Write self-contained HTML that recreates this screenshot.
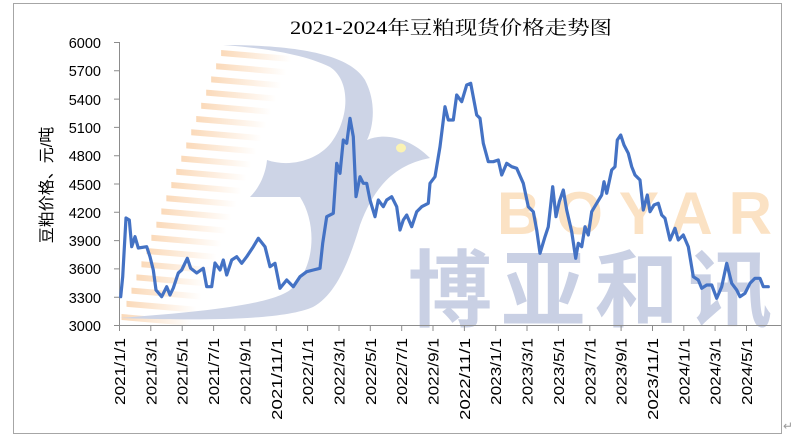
<!DOCTYPE html>
<html><head><meta charset="utf-8"><style>
html,body{margin:0;padding:0;background:#fff;}
svg{display:block;}
</style></head><body>
<svg width="802" height="446" viewBox="0 0 802 446" xmlns="http://www.w3.org/2000/svg">
<defs>
<linearGradient id="og" x1="0" y1="0" x2="1" y2="0">
<stop offset="0" stop-color="#f9cda2" stop-opacity="0.75"/>
<stop offset="1" stop-color="#f9cda2" stop-opacity="0"/>
</linearGradient>
</defs>
<rect x="13.5" y="3.5" width="768" height="430" fill="#fff" stroke="#a6a6a6" stroke-width="1"/>
<g id="stripes"></g>
<path d="M223,45 C300,45 350,55 365,80 C378,105 372,130 367,140 C385,132 410,138 430,158 C395,165 375,185 360,225 C348,265 335,295 313,307 C280,322 180,320 120,318 C200,312 270,305 290,290 C315,270 318,225 300,197 L250,197 C262,185 266,170 267,160 C290,168 320,160 333,140 C350,115 350,80 330,67 C300,52 250,47 223,45 Z" fill="#cdd4e6"/>
<ellipse cx="401" cy="148" rx="5" ry="4.5" fill="#fbf3b3"/>
<text x="497" y="234" font-family="Liberation Sans, sans-serif" font-weight="bold" font-size="60" fill="#fbe2c4" textLength="275" lengthAdjust="spacing">BOYAR</text>
<text x="408" y="320" font-family="'Liberation Sans','Noto Sans CJK SC',sans-serif" font-weight="bold" font-size="84" fill="#c9d0e4" textLength="364" lengthAdjust="spacing">博亚和讯</text>
<g stroke="#8c8c8c" stroke-width="1" fill="none">
<path d="M119.5,42 V325.5 H781"/>
<path d="M114,42.5H120M114,70.8H120M114,99.1H120M114,127.4H120M114,155.7H120M114,184H120M114,212.3H120M114,240.6H120M114,268.9H120M114,297.2H120M114,325.5H120"/>
<g id="xt"></g>
</g>
<g font-family="Liberation Sans, sans-serif" font-size="14.5" fill="#000" text-anchor="end">
<text x="101" y="48">6000</text><text x="101" y="76">5700</text><text x="101" y="105">5400</text>
<text x="101" y="133">5100</text><text x="101" y="161">4800</text><text x="101" y="190">4500</text>
<text x="101" y="218">4200</text><text x="101" y="246">3900</text><text x="101" y="274">3600</text>
<text x="101" y="303">3300</text><text x="101" y="331">3000</text>
</g>
<g id="xl" font-family="Liberation Sans, sans-serif" font-size="15" fill="#000"></g>
<text x="290" y="34" font-family="'Liberation Serif','Noto Serif CJK SC',serif" font-size="19" fill="#000" textLength="322" lengthAdjust="spacingAndGlyphs">2021-2024年豆粕现货价格走势图</text>
<text transform="translate(52,185) rotate(-90)" text-anchor="middle" font-family="'Liberation Sans','Noto Sans CJK SC',sans-serif" font-size="16" fill="#000">豆粕价格、元/吨</text>
<polyline fill="none" stroke="#4472c4" stroke-width="3.2" stroke-linejoin="round" stroke-linecap="round" points="120.7,296.7 122.7,276.7 126,218 129.3,220 131.7,246.7 135,236.7 138.3,248 146.7,246.7 150,256.7 153.3,270 156,290 161.7,296.7 166.7,286.7 170,295 173.3,288 178.3,273 181.7,270 187.3,258.3 190.7,268.3 196.7,273 203.3,268.3 206.7,286.7 211.7,286.7 215,263 220,270 223.3,260 226.7,275 231.7,260 236.7,256.7 241.7,263.3 246.7,256.7 253.3,246.7 258.3,238.3 265,246.7 270,266.7 275,263.3 280,288.3 286.7,280 293.3,286.7 300,276.7 306.7,271.7 313.3,270 320,268.3 322.7,243.3 326.7,216.7 333.3,213.3 336.7,163.3 340,173.3 343.3,140 346.7,143.3 350,118.3 353.3,136.7 356,196.7 360,176.7 363.3,183.3 366.7,183.3 370,200 375,216.7 378.3,200 383.3,206.7 386.7,200 391.7,196.7 396.7,206.7 400,230 403.3,220 406.7,215 411.7,226.7 416.7,211.7 421.7,206.7 428.3,203.3 430,183.3 435,176.7 440,146.7 445,106.7 448.3,120 453.3,120 456.7,95 461.7,101.7 466.7,85 470.7,83.3 476.7,115 480,118.3 483.3,143.3 488.3,161.7 493.3,161.7 498.3,160 501.7,175 506.7,163.3 511.7,166.7 516.7,168.3 523.3,183.3 528.3,206.7 533.3,211.7 536.7,230 540,253.3 545,236.7 548.3,226.7 552.7,186.7 556,216.7 559.3,201.7 563.3,190 566.7,210 571.7,231.7 575.7,258.3 578.3,243.3 581.7,246.7 585,226.7 588.3,235 591.7,211.7 596.7,203.3 601.7,195 604,181.7 606.7,193.3 611.7,170 615,166.7 617.3,140 620.7,135 624,145 628.3,153.3 631.7,166.7 635,175 640,180 643.3,210 647.3,195 650,211.7 654,205 658.3,203.3 661.7,215 665,218.3 670,240 675,228.3 678.3,240 683.3,235 688.3,246.7 693.3,276.7 698.3,280 701.7,288.3 706.7,285 711.7,285 716.7,298.3 721.7,286.7 726.7,263.3 731.7,283.3 736.7,290 740,296.7 745,293.3 750,283.3 755,278.3 760,278.3 763.3,286.7 768.3,286.7"/>
<text x="783" y="430" font-family="Liberation Sans, sans-serif" font-size="12" fill="#999">↵</text>
</svg>
<script>
var ns="http://www.w3.org/2000/svg";
var labels=[];
for(var y=2021;y<=2024;y++){for(var m=1;m<=11;m+=2){if(y==2024&&m>5)break;labels.push(y+"/"+m+"/1");}}
var xt=document.getElementById("xt"),xl=document.getElementById("xl");
var d="";
for(var i=0;i<labels.length;i++){
 var x=119.5+i*31.35;
 d+="M"+x.toFixed(1)+",325.5V331";
 var t=document.createElementNS(ns,"text");
 t.setAttribute("transform","translate("+(x+5.5).toFixed(1)+",338) rotate(-90)");
 t.setAttribute("text-anchor","end");
 var len=labels[i].length>=9?82:67;
 t.setAttribute("textLength",len);t.setAttribute("lengthAdjust","spacingAndGlyphs");
 t.textContent=labels[i];xl.appendChild(t);
}
var p=document.createElementNS(ns,"path");p.setAttribute("d",d);xt.appendChild(p);
var st=document.getElementById("stripes");
for(var k=0;k<21;k++){
 var yy=50+k*13.2;
 var lx=223-(yy-45)*103/273;
 var r=document.createElementNS(ns,"polygon");
 r.setAttribute("points",lx+","+yy+" "+(lx+70)+","+(yy+6)+" "+(lx+70)+","+(yy+12)+" "+lx+","+(yy+6));
 r.setAttribute("fill","url(#og)");st.appendChild(r);
}
</script>
</body></html>
